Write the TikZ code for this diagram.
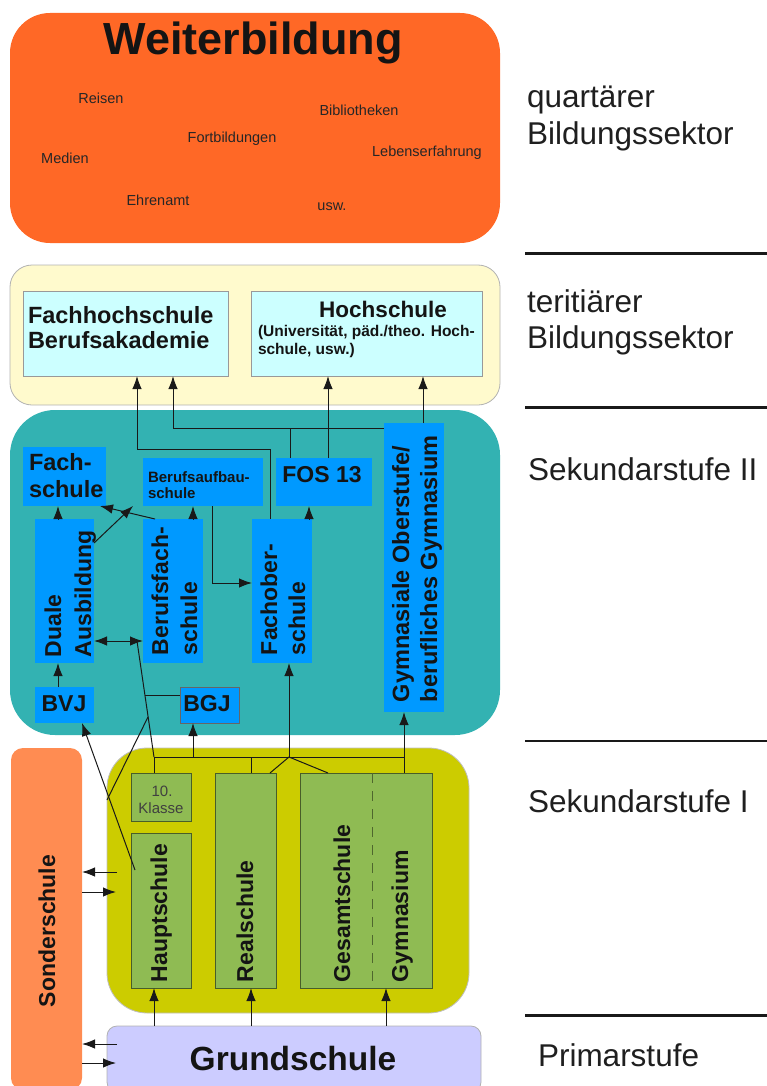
\documentclass[tikz,border=0pt]{standalone}
\usepackage{fontspec}
\setmainfont{Liberation Sans}
\usetikzlibrary{arrows.meta,calc}
\definecolor{orangeC}{RGB}{255,104,38}
\definecolor{paleY}{RGB}{255,250,205}
\definecolor{lcyan}{RGB}{204,255,255}
\definecolor{tealC}{RGB}{51,178,178}
\definecolor{blueC}{RGB}{0,153,255}
\definecolor{oliveC}{RGB}{204,204,0}
\definecolor{greenC}{RGB}{143,187,83}
\definecolor{sonderC}{RGB}{255,140,82}
\definecolor{lavC}{RGB}{204,204,255}
\newcommand{\myfs}[1]{\fontsize{#1}{#1}\selectfont}
\begin{document}
\begin{tikzpicture}[x=1pt,y=-1pt,
  box/.style={inner sep=0pt, outer sep=0pt, anchor=center},
  bbox/.style={box, fill=blueC},
  gbox/.style={box, fill=greenC, draw=black!50!greenC, line width=0.8pt},
  cbox/.style={box, fill=lcyan, draw=black!40, line width=0.8pt},
  txt/.style={inner sep=0pt, outer sep=0pt, text=black!92},
  btxt/.style={txt, font=\bfseries\myfs{23}},
  rtxt/.style={btxt, rotate=90, anchor=base west},
  small/.style={txt, font=\myfs{14.5}, text=black!85},
  side/.style={txt, font=\myfs{31.5}, anchor=base west, text=black!88},
  ln/.style={draw=black!90, line width=1pt},
  arr/.style={ln, -{Latex[length=13pt,width=9.5pt]}},
  arrtwo/.style={ln, {Latex[length=13pt,width=9.5pt]}-{Latex[length=13pt,width=9.5pt]}},
  sep/.style={draw=black!90, line width=3pt}
]
\useasboundingbox (0,0) rectangle (767,1086);

% ---------- quartaerer Sektor ----------
\node[box, fill=orangeC, rounded corners=40pt, minimum width=490pt, minimum height=230pt] (weiter) at (255,128) {};
\node[txt, font=\bfseries\myfs{45}, anchor=base] (wtitle) at (253,55) {Weiterbildung};
\node[small] (reisen) at (101,98) {Reisen};
\node[small] (biblio) at (359,110) {Bibliotheken};
\node[small] (fortb) at (232,139) {Fortbildungen};
\node[small] (medien) at (65,158) {Medien};
\node[small] (leben) at (427,153) {Lebenserfahrung};
\node[small] (ehren) at (158,200) {Ehrenamt};
\node[small] (usw) at (332,207) {usw.};

% ---------- tertiaerer Sektor ----------
\node[box, fill=paleY, draw=black!30, line width=0.8pt, rounded corners=22pt, minimum width=490pt, minimum height=140pt] (tert) at (255,335) {};
\node[cbox, minimum width=205pt, minimum height=85pt] (fh) at (125.5,333.5) {};
\node[cbox, minimum width=231pt, minimum height=85pt] (hs) at (366.5,333.5) {};
\node[btxt, font=\bfseries\myfs{23.5}, anchor=base west] (fh1) at (28,323) {Fachhochschule};
\node[btxt, font=\bfseries\myfs{23.5}, anchor=base west] (fh2) at (28,348) {Berufsakademie};
\node[btxt, font=\bfseries\myfs{22.5}, anchor=base] (hs1) at (383,317) {Hochschule};
\node[btxt, font=\bfseries\myfs{15.5}, anchor=base west] (hs2) at (258,336) {(Universität, päd./theo. Hoch-};
\node[btxt, font=\bfseries\myfs{15.5}, anchor=base west] (hs3) at (258,354) {schule, usw.)};

% ---------- Sekundarstufe II ----------
\node[box, fill=tealC, rounded corners=45pt, minimum width=490pt, minimum height=325pt] (sek2) at (255,572.5) {};
\node[bbox, minimum width=83pt, minimum height=59pt] (fachs) at (64.5,476.5) {};
\node[bbox, minimum width=120pt, minimum height=48pt] (bas) at (203,482) {};
\node[bbox, minimum width=96pt, minimum height=48pt] (fos) at (324,482) {};
\node[bbox, minimum width=60pt, minimum height=289pt] (gym2) at (414,567.5) {};
\node[bbox, minimum width=59pt, minimum height=144pt] (duale) at (64.5,591) {};
\node[bbox, minimum width=60pt, minimum height=144pt] (bfs) at (173,591) {};
\node[bbox, minimum width=60pt, minimum height=144pt] (fobs) at (282,591) {};
\node[bbox, minimum width=59pt, minimum height=36pt] (bvj) at (64.5,705) {};
\node[bbox, draw=black!60, line width=0.8pt, minimum width=59pt, minimum height=36pt] (bgj) at (209.5,705) {};

\node[btxt, font=\bfseries\myfs{23.5}, anchor=base west] (fachs1) at (29,470) {Fach-};
\node[btxt, font=\bfseries\myfs{23.5}, anchor=base west] (fachs2) at (29,497) {schule};
\node[btxt, font=\bfseries\myfs{15}, anchor=base west] (bas1) at (148,482) {Berufsaufbau-};
\node[btxt, font=\bfseries\myfs{15}, anchor=base west] (bas2) at (148,498) {schule};
\node[btxt, anchor=base] (fos1) at (322,482) {FOS 13};
\node[btxt, anchor=base] (bvj1) at (64,711) {BVJ};
\node[btxt, anchor=base] (bgj1) at (207,711) {BGJ};
\node[rtxt] (dua1) at (61,657) {Duale};
\node[rtxt] (dua2) at (91,657) {Ausbildung};
\node[rtxt] (bfs1) at (168,655) {Berufsfach-};
\node[rtxt] (bfs2) at (197,655) {schule};
\node[rtxt] (fob1) at (277,655) {Fachober-};
\node[rtxt] (fob2) at (305,655) {schule};
\node[rtxt, font=\bfseries\myfs{23.5}] (gyma) at (409,702) {Gymnasiale Oberstufe/};
\node[rtxt, font=\bfseries\myfs{23.5}] (gymb) at (437,702) {berufliches Gymnasium};

% ---------- Sekundarstufe I ----------
\node[box, fill=oliveC, draw=black!25, line width=0.8pt, rounded corners=40pt, minimum width=362pt, minimum height=265pt] (sek1) at (288,880.5) {};
\node[gbox, minimum width=60pt, minimum height=48pt] (klasse) at (161,797) {};
\node[gbox, minimum width=60pt, minimum height=155pt] (haupt) at (161,910.5) {};
\node[gbox, minimum width=61pt, minimum height=215pt] (real) at (245.5,880.5) {};
\node[gbox, minimum width=132pt, minimum height=215pt] (gesgym) at (366,880.5) {};
\draw[draw=black!45!greenC, line width=0.9pt, dash pattern=on 10pt off 8pt] ([xshift=6pt]gesgym.north) -- ([xshift=6pt]gesgym.south);
\node[txt, font=\myfs{15}, text=black!75, anchor=base] (kl1) at (162,796) {10.};
\node[txt, font=\myfs{15}, text=black!75, anchor=base] (kl2) at (161,813) {Klasse};
\node[rtxt] (haupt1) at (167,982) {Hauptschule};
\node[rtxt] (real1) at (253,982) {Realschule};
\node[rtxt] (ges1) at (350,982) {Gesamtschule};
\node[rtxt] (gymn1) at (408,982) {Gymnasium};

% ---------- Sonderschule, Grundschule ----------
\node[box, fill=sonderC, rounded corners=12pt, minimum width=71pt, minimum height=342pt] (sonder) at (46.5,919) {};
\node[rtxt] (son1) at (55,1007) {Sonderschule};
\node[box, fill=lavC, draw=black!30, line width=0.8pt, rounded corners=10pt, minimum width=374pt, minimum height=66pt] (grund) at (294,1059) {};
\node[btxt, font=\bfseries\myfs{33.5}, anchor=base] (grund1) at (293,1070) {Grundschule};

% ---------- right column ----------
\node[side] (q1) at (527,108) {quartärer};
\node[side] (q2) at (527,145) {Bildungssektor};
\node[side] (t1) at (527,312) {teritiärer};
\node[side] (t2) at (527,348) {Bildungssektor};
\node[side] (s2) at (528,480) {Sekundarstufe II};
\node[side] (s1) at (528,812) {Sekundarstufe I};
\node[side] (prim) at (538,1066) {Primarstufe};
\draw[sep] (525,253) -- (767,253);
\draw[sep] (525,407) -- (767,407);
\draw[sep, line width=2pt] (525,741) -- (767,741);
\draw[sep] (525,1015) -- (767,1015);

% ---------- connectors ----------
\coordinate (dmid) at (137,641);
\coordinate (j10) at (154,757);
\coordinate (jf) at (289,757);
\coordinate (jg) at (404,757);
\coordinate (bfrk) at (145,695);
\coordinate (lfrk) at (148,717);

\draw[arr] ([xshift=-6.5pt]duale.north) -- ([xshift=-6.5pt]duale.north |- fachs.south);
\draw[arr] ([xshift=12pt]bfs.north west) -- ([xshift=-6pt]fachs.south east);
\draw[arr] ([yshift=48pt]duale.east) -- ([xshift=-10pt]bas.south west);
\draw[arr] ([xshift=20pt]bfs.north) -- ([xshift=20pt]bfs.north |- bas.south);
\draw[arr] ([xshift=9pt]bas.south) |- ([yshift=8pt]fobs.west);
\draw[arrtwo] ([yshift=-50pt]duale.east) -- ([yshift=-50pt]bfs.west);
\draw[arr] ([xshift=27pt]fobs.north) -- ([xshift=27pt]fobs.north |- fos.south);
\draw[arr] ([xshift=-12pt]fobs.north) -- ++(0,-70) -| ([xshift=11.5pt]fh.south);
\draw[arr] ([yshift=-5pt]gym2.north west) -| ([xshift=47.5pt]fh.south);
\draw[ln] ([xshift=-34pt]fos.north) -- ++(0,-30);
\draw[arr] ([xshift=4pt]fos.north) -- ([xshift=4pt]fos.north |- hs.south);
\draw[arr] ([xshift=9pt]gym2.north) -- ([xshift=9pt]gym2.north |- hs.south);
\draw[arr] ([xshift=-6.5pt]bvj.north) -- ([xshift=-6.5pt]duale.south);
\draw[arr] ([shift={(4pt,40.5pt)}]haupt.west) -- ([xshift=17.5pt]bvj.south);

\draw[ln] ([xshift=-7pt]klasse.north) -- (j10);
\draw[ln] (j10) -- (jg);
\draw[ln] (j10) -- (dmid);
\draw[ln] (bfrk) -- ([yshift=10pt]bgj.west);
\draw[ln] (lfrk) -- ([yshift=80.5pt]sek1.west);
\draw[arr] ([xshift=-16.5pt]bgj.south |- j10) -- ([xshift=-16.5pt]bgj.south);
\draw[ln] ([xshift=5.5pt]real.north) -- ([xshift=5.5pt]real.north |- j10);
\draw[ln] ([xshift=24.5pt]real.north) -- (jf) -- ([xshift=28pt]gesgym.north west);
\draw[arr] (jf) -- (jf |- fobs.south);
\draw[arr] ([xshift=38pt]gesgym.north) -- ([xshift=38pt]gesgym.north |- gym2.south);

\draw[arr] ([xshift=-7pt]haupt.south |- grund.north) -- ([xshift=-7pt]haupt.south);
\draw[arr] ([xshift=5.5pt]real.south |- grund.north) -- ([xshift=5.5pt]real.south);
\draw[arr] ([xshift=20pt]gesgym.south |- grund.north) -- ([xshift=20pt]gesgym.south);

\coordinate (sa) at (117,872);
\coordinate (sb) at (116,892);
\coordinate (sc) at (117,1044);
\coordinate (sd) at (116,1063);
\draw[arr] (sa) -- (sa -| sonder.east);
\draw[arr] (sb -| sonder.east) -- (sb);
\draw[arr] (sc) -- (sc -| sonder.east);
\draw[arr] (sd -| sonder.east) -- (sd);
\end{tikzpicture}
\end{document}
